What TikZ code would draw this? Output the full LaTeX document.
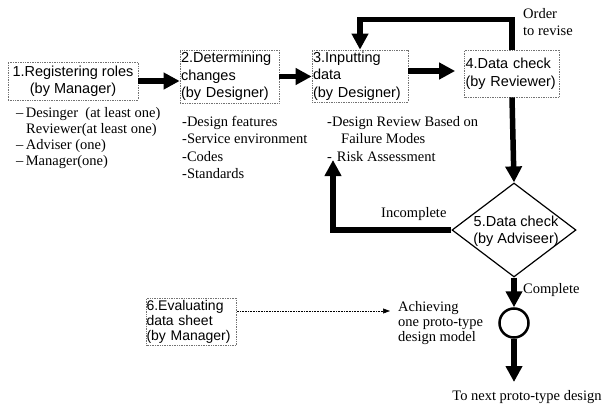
\documentclass[tikz,border=0pt]{standalone}
\usepackage{fontspec}
\setmainfont{Liberation Serif}
\newfontfamily\boxfont{Liberation Sans}
\usetikzlibrary{arrows.meta,shapes.geometric,calc}
\tikzset{
  stepbox/.style={draw=black!55, densely dotted, line width=0.7pt, inner sep=1pt,
    font=\boxfont\fontsize{14.5}{17.5}\selectfont, align=left},
  listtext/.style={anchor=north west, inner sep=0pt, align=left,
    font=\fontsize{14.5}{17.5}\selectfont},
  plain/.style={inner sep=0pt, align=left, font=\fontsize{14.5}{17.5}\selectfont},
  bigarrow/.style={line width=5.5pt, -{Triangle[length=16pt,width=16pt]}},
  dotarrow/.style={line width=0.6pt, densely dotted, -{Triangle[length=7pt,width=5pt]}}
}
\begin{document}
\begin{tikzpicture}[x=1pt,y=-1pt]
\useasboundingbox (0,0) rectangle (603,407);
% boxes
\node[stepbox, align=center, minimum width=130pt, minimum height=38pt] (b1) at (73,81)
  {1.Registering roles\\(by Manager)};
\node[stepbox, text width=97pt, minimum height=53pt] (b2) at (229.5,76.5)
  {2.Determining\\changes\\(by Designer)};
\node[stepbox, text width=94pt, minimum height=52pt] (b3) at (360,76)
  {3.Inputting\\data\\(by Designer)};
\node[stepbox, text width=93pt, minimum height=47pt] (b4) at (512,73.5)
  {4.Data check\\(by Reviewer)};
\node[stepbox, text width=90pt, minimum height=47pt, inner sep=0pt,
      font=\boxfont\fontsize{14}{15}\selectfont] (b6) at (191.5,321.5)
  {6.Evaluating\\data sheet\\(by Manager)};
% diamond
\node[draw, diamond, line width=1.2pt, minimum width=124pt, minimum height=94pt, inner sep=0pt] (d5) at (514,230) {};
\node[inner sep=0pt, align=center, font=\boxfont\fontsize{14.5}{17.5}\selectfont] (d5t) at (516,231) {5.Data check\\(by Adviseer)};
% circle
\node[draw, circle, line width=2.5pt, minimum size=29pt, inner sep=0pt] (c) at (514,323) {};
% lists
\node[listtext, font=\fontsize{14.5}{16}\selectfont] (l1) at (16,107)
  {--\,Desinger\enspace(at least one)\\\hspace{10pt}Reviewer(at least one)\\--\,Adviser (one)\\--\,Manager(one)};
\node[listtext] (l2) at (182,116)
  {-Design features\\-Service environment\\-Codes\\-Standards};
\node[listtext] (l3) at (327,116)
  {-Design Review Based on\\\hspace{14pt}Failure Modes\\-\,\,Risk Assessment};
% labels
\node[plain, anchor=north west] (order) at (523,8) {Order\\to revise};
\node[plain, anchor=base west] (inc) at (381,217) {Incomplete};
\node[plain, anchor=base west] (comp) at (523,293) {Complete};
\node[plain, anchor=north west, font=\fontsize{14.5}{15}\selectfont] (ach) at (398,301) {Achieving\\one proto-type\\design model};
\node[plain, anchor=base] (next) at (527,400) {To next proto-type design};
% coordinates
\coordinate (incEnd) at (333,160);
\coordinate (nextEnd) at (514,382);
\coordinate (achEnd) at (390,311);
% connectors
\draw[bigarrow] (b1.east) -- (b1.east -| b2.west);
\draw[bigarrow] (b2.east) -- (b2.east -| b3.west);
\draw[bigarrow, shorten >=9pt] ([yshift=5pt]b3.east) -- ([yshift=5pt]b3.east -| b4.west);
\draw[bigarrow] (b4.north) -- ++(0,-30) -| (b3.north);
\draw[bigarrow] (b4.south) -- (d5.north);
\draw[bigarrow] (d5.west) -| (incEnd);
\draw[bigarrow] (d5.south) -- (c.north);
\draw[bigarrow] (c.south) -- (nextEnd);
\draw[dotarrow] (b6.east |- achEnd) -- (achEnd);
\end{tikzpicture}
\end{document}
